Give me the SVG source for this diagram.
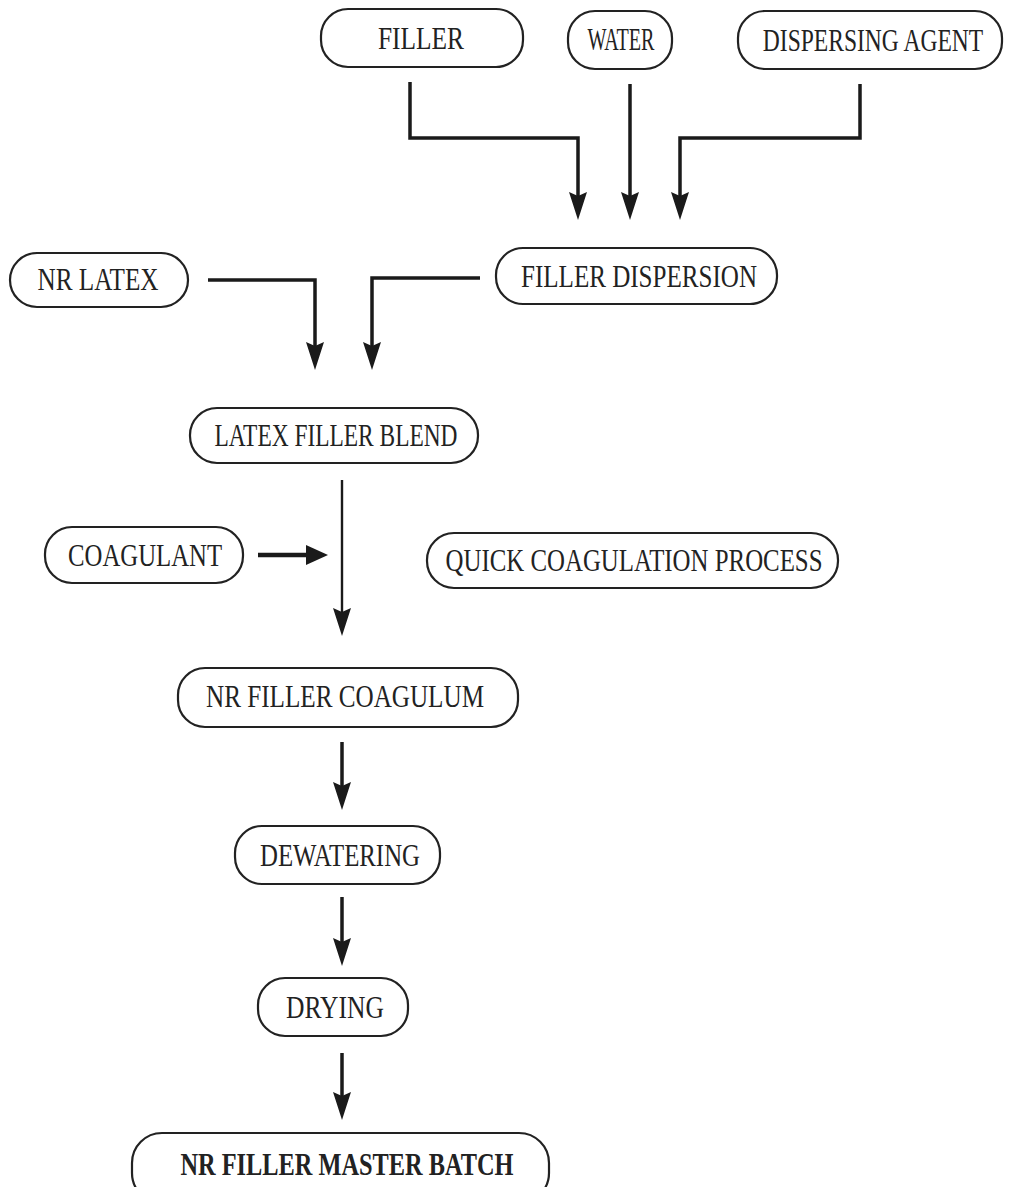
<svg xmlns="http://www.w3.org/2000/svg" width="1011" height="1187" viewBox="0 0 1011 1187">
<defs>
<style>
.box{fill:#fff;stroke:#222;stroke-width:2.2}
.t{font-family:"Liberation Serif","Times New Roman",serif;font-size:31px;fill:#222;text-anchor:middle}
.b{font-weight:bold;font-size:32px}
.c{fill:none;stroke:#1a1a1a;stroke-width:3.5}
.thin{stroke-width:2.4}
.thick{stroke-width:4.5}
</style>
<marker id="ah" markerUnits="userSpaceOnUse" markerWidth="30" markerHeight="18" refX="10" refY="9" orient="auto">
<path d="M0,0 L28,9 L0,18 L4,9 z" fill="#1a1a1a"/>
</marker>
<marker id="ah2" markerUnits="userSpaceOnUse" markerWidth="22" markerHeight="20" refX="6" refY="10" orient="auto">
<path d="M0,0 L22,10 L0,20 z" fill="#1a1a1a"/>
</marker>
</defs>
<rect width="1011" height="1187" fill="#fff"/>
<g id="connectors">
<path class="c" d="M410,82 V138 H578 V202" marker-end="url(#ah)"/>
<path class="c" d="M630,84 V202" marker-end="url(#ah)"/>
<path class="c" d="M860,84 V138 H680 V202" marker-end="url(#ah)"/>
<path class="c" d="M208,280 H315 V352" marker-end="url(#ah)"/>
<path class="c" d="M480,278 H372 V352" marker-end="url(#ah)"/>
<path class="c thin" d="M342,480 V618" marker-end="url(#ah)"/>
<path class="c thick" d="M258,555 H312" marker-end="url(#ah2)"/>
<path class="c" d="M342,742 V792" marker-end="url(#ah)"/>
<path class="c" d="M342,897 V948" marker-end="url(#ah)"/>
<path class="c" d="M342,1053 V1102" marker-end="url(#ah)"/>
</g>
<g id="filler"><rect class="box" x="321" y="9" width="202" height="58" rx="27"/><text class="t" x="421" y="49" textLength="86" lengthAdjust="spacingAndGlyphs">FILLER</text></g>
<g id="water"><rect class="box" x="568" y="11" width="104" height="58" rx="27"/><text class="t" x="621" y="50" textLength="67" lengthAdjust="spacingAndGlyphs">WATER</text></g>
<g id="dispersing-agent"><rect class="box" x="738" y="11" width="264" height="58" rx="27"/><text class="t" transform="matrix(0.76,0,0,1,873,51)">DISPERSING AGENT</text></g>
<g id="filler-dispersion"><rect class="box" x="496" y="248" width="281" height="56" rx="27"/><text class="t" x="639" y="287" textLength="236" lengthAdjust="spacingAndGlyphs">FILLER DISPERSION</text></g>
<g id="nr-latex"><rect class="box" x="10" y="253" width="178" height="54" rx="27"/><text class="t" x="98" y="290" textLength="121" lengthAdjust="spacingAndGlyphs">NR LATEX</text></g>
<g id="latex-filler-blend"><rect class="box" x="190" y="408" width="288" height="55" rx="27"/><text class="t" x="336" y="446" textLength="243" lengthAdjust="spacingAndGlyphs">LATEX FILLER BLEND</text></g>
<g id="coagulant"><rect class="box" x="45" y="527" width="198" height="56" rx="27"/><text class="t" x="145" y="566" textLength="154" lengthAdjust="spacingAndGlyphs">COAGULANT</text></g>
<g id="quick-coagulation-process"><rect class="box" x="427" y="533" width="411" height="55" rx="27"/><text class="t" x="634" y="571" textLength="377" lengthAdjust="spacingAndGlyphs">QUICK COAGULATION PROCESS</text></g>
<g id="nr-filler-coagulum"><rect class="box" x="178" y="668" width="340" height="59" rx="27"/><text class="t" x="345" y="707" textLength="278" lengthAdjust="spacingAndGlyphs">NR FILLER COAGULUM</text></g>
<g id="dewatering"><rect class="box" x="235" y="826" width="205" height="58" rx="27"/><text class="t" x="340" y="866" textLength="160" lengthAdjust="spacingAndGlyphs">DEWATERING</text></g>
<g id="drying"><rect class="box" x="258" y="978" width="150" height="58" rx="27"/><text class="t" x="335" y="1018" textLength="98" lengthAdjust="spacingAndGlyphs">DRYING</text></g>
<g id="nr-filler-master-batch"><rect class="box" x="132" y="1133" width="417" height="70" rx="30"/><text class="t b" x="347" y="1175" textLength="333" lengthAdjust="spacingAndGlyphs">NR FILLER MASTER BATCH</text></g>
</svg>
